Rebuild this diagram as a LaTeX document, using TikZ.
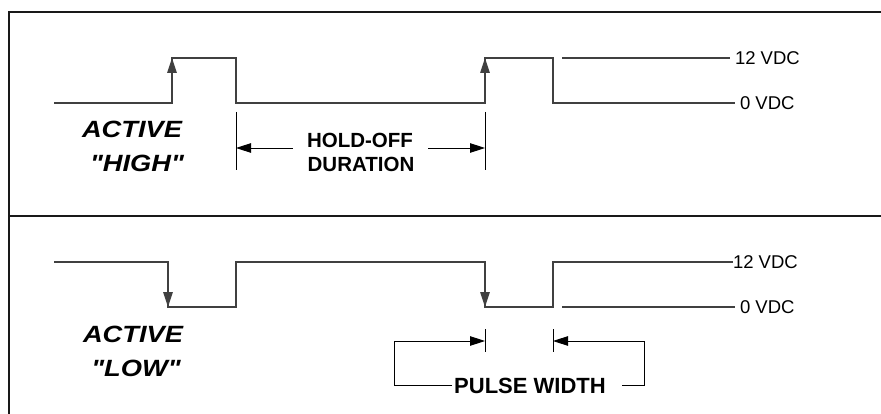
\documentclass[tikz,border=0pt]{standalone}
\usepackage{fontspec}
\setmainfont[Ligatures=TeXOff]{Liberation Sans}
\usetikzlibrary{arrows.meta}
\def\lvlfont{\fontsize{18.5}{20}\selectfont}
\def\lblfont{\fontsize{20.5}{22}\selectfont\bfseries}
\def\modefont{\fontsize{23.5}{25}\selectfont\bfseries\itshape}

\begin{document}
\begin{tikzpicture}[x=1pt,y=-1pt,>={Triangle[length=15pt,width=9.5pt]},
    wave/.style={line width=1.2pt,black!75},
    dim/.style={line width=0.9pt,black},
    frame/.style={line width=2pt,black!90},
    lvl/.style={font=\lvlfont,anchor=west,inner sep=0pt,outer xsep=5pt,text height=13.2pt,text depth=0pt},
    lbl/.style={font=\lblfont,anchor=base,inner sep=0pt},
    mode/.style={font=\modefont,anchor=base,inner sep=0pt,xscale=1.16,transform shape}]
    \useasboundingbox (0,0) rectangle (881,414);
    \draw[frame] (881,12) -- (9,12) -- (9,414);
    \draw[frame] (9,216) -- (881,216);
    \begin{scope}
        \node[lvl] (hiA) at (730,58) {12 VDC};
        \node[lvl] (zeroA) at (735,103) {0 VDC};
        \draw[wave] (54,103) -| (172,58) -| (236,103) -| (485,58) -| (553,103) -- (zeroA.west);
        \draw[wave] (562,58) -- (hiA.west);
        \draw[wave,->] (172,103) -- (172,58);
        \draw[wave,->] (485,103) -- (485,58);
        \node[mode] (actA) at (132,138) {ACTIVE};
        \node[mode] (highA) at (137,172) {"HIGH"};
        \draw[dim] (236,112) -- (236,170);
        \draw[dim] (485,112) -- (485,170);
        \coordinate (hoL) at (236,148);
        \coordinate (hoR) at (485,148);
        \draw[dim,<-] (hoL) -- +(57,0);
        \draw[dim,<-] (hoR) -- +(-57,0);
        \node[lbl] (hold) at (360,147.7) {HOLD-OFF};
        \node[lbl] (dur) at (361,171.7) {DURATION};
    \end{scope}
    \begin{scope}
        \node[lvl,outer xsep=0pt] (hiB) at (733,262) {12 VDC};
        \node[lvl] (zeroB) at (735,307) {0 VDC};
        \draw[wave] (54,262) -| (168,307) -| (236,262) -| (485,307) -| (553,262) -- (hiB.west);
        \draw[wave] (562,307) -- (zeroB.west);
        \draw[wave,->] (168,262) -- (168,307);
        \draw[wave,->] (485,262) -- (485,307);
        \node[mode] (actB) at (133,342.7) {ACTIVE};
        \node[mode] (lowB) at (136,376.7) {"LOW"};
        \draw[dim] (485,329) -- (485,352);
        \draw[dim] (553,329) -- (553,352);
        \coordinate (pwL) at (485,341);
        \coordinate (pwR) at (553,341);
        \node[lbl,font=\fontsize{22}{24}\selectfont\bfseries] (pw) at (530,393) {PULSE WIDTH};
        \draw[dim,->] (452,385.7) -| (394,341) -- (pwL);
        \draw[dim,->] (622,385.7) -| (644,341) -- (pwR);
    \end{scope}
\end{tikzpicture}
\end{document}
